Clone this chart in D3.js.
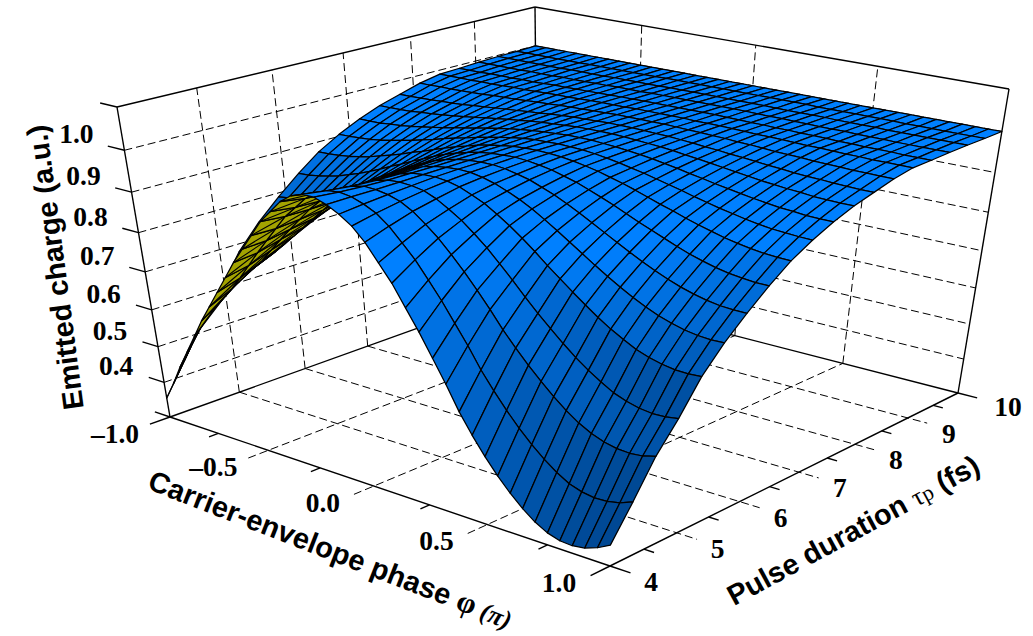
<!DOCTYPE html>
<html><head><meta charset="utf-8"><script src="https://cdn.jsdelivr.net/npm/d3@7"></script>
<style>html,body{margin:0;background:#fff}svg{display:block}</style></head><body><div id="c"></div>
<script>
const phiValues=[-1,-.95,-.9,-.85,-.8,-.75,-.7,-.65,-.6,-.55,-.5,-.45,-.4,-.35,-.3,-.25,-.2,-.15,-.1,-.05,0,.05,.1,.15,.2,.25,.3,.35,.4,.45,.5,.55,.6,.65,.7,.75,.8,.85,.9,.95,1];
const tauValues=[4,4.316,4.632,4.947,5.263,5.579,5.895,6.211,6.526,6.842,7.158,7.474,7.789,8.105,8.421,8.737,9.053,9.368,9.684,10];
const surface=[
[.355,.405,.46,.51,.56,.61,.655,.7,.745,.79,.83,.87,.91,.94,.97,.99,1,1,.99,.975,.955,.925,.885,.845,.795,.745,.69,.635,.575,.525,.48,.44,.405,.375,.35,.332,.322,.32,.325,.337,.355],
[.44,.49,.54,.585,.615,.648,.682,.718,.757,.796,.833,.869,.905,.933,.961,.98,.992,.995,.991,.981,.967,.944,.913,.881,.841,.8,.754,.708,.657,.614,.574,.538,.506,.478,.454,.435,.424,.419,.42,.427,.44],
[.53,.568,.606,.64,.665,.69,.716,.744,.778,.811,.843,.874,.905,.931,.956,.974,.986,.992,.991,.986,.977,.961,.938,.913,.882,.849,.813,.775,.734,.698,.664,.633,.604,.578,.556,.539,.527,.52,.518,.521,.53],
[.6,.623,.648,.671,.692,.715,.74,.767,.795,.824,.852,.88,.907,.93,.953,.97,.983,.99,.992,.99,.985,.973,.956,.937,.913,.887,.857,.826,.793,.762,.733,.705,.679,.656,.636,.618,.606,.598,.594,.595,.6],
[.68,.691,.706,.721,.739,.759,.779,.801,.824,.847,.87,.893,.916,.936,.954,.97,.982,.99,.993,.994,.991,.984,.972,.959,.941,.921,.899,.875,.849,.825,.801,.778,.756,.736,.719,.703,.692,.684,.679,.678,.68],
[.74,.747,.757,.769,.782,.797,.814,.831,.85,.869,.888,.908,.926,.943,.959,.972,.983,.99,.994,.996,.995,.99,.982,.971,.958,.943,.925,.906,.886,.866,.846,.827,.809,.792,.777,.764,.754,.746,.741,.739,.74],
[.79,.794,.801,.809,.819,.831,.844,.858,.873,.889,.905,.921,.936,.95,.963,.975,.984,.991,.995,.997,.997,.994,.988,.981,.97,.959,.945,.93,.914,.898,.882,.866,.851,.837,.824,.813,.804,.797,.792,.79,.79],
[.835,.837,.841,.847,.854,.863,.873,.884,.896,.909,.921,.934,.946,.958,.969,.978,.986,.992,.996,.998,.999,.997,.993,.988,.98,.972,.961,.95,.938,.925,.912,.9,.888,.876,.865,.856,.848,.842,.838,.835,.835],
[.875,.876,.878,.882,.887,.893,.901,.909,.918,.928,.937,.947,.957,.966,.974,.982,.988,.993,.997,.999,1,.999,.997,.993,.988,.982,.974,.966,.957,.947,.937,.928,.918,.909,.901,.893,.887,.882,.878,.876,.875],
[.905,.906,.908,.91,.914,.919,.925,.931,.938,.945,.953,.96,.967,.974,.98,.986,.991,.995,.998,.999,1,.999,.998,.995,.991,.986,.98,.974,.967,.96,.953,.945,.938,.931,.925,.919,.914,.91,.908,.906,.905],
[.93,.93,.931,.934,.936,.94,.944,.949,.954,.959,.965,.97,.976,.981,.986,.99,.993,.996,.998,1,1,1,.998,.996,.993,.99,.986,.981,.976,.97,.965,.959,.954,.949,.944,.94,.936,.934,.931,.93,.93],
[.95,.95,.951,.952,.955,.957,.96,.963,.967,.971,.975,.979,.983,.986,.99,.993,.995,.997,.999,1,1,1,.999,.997,.995,.993,.99,.986,.983,.979,.975,.971,.967,.963,.96,.957,.955,.952,.951,.95,.95],
[.965,.965,.966,.967,.969,.97,.972,.975,.977,.98,.983,.985,.988,.99,.993,.995,.997,.998,.999,1,1,1,.999,.998,.997,.995,.993,.99,.988,.985,.983,.98,.977,.975,.972,.97,.969,.967,.966,.965,.965],
[.98,.98,.981,.981,.982,.983,.984,.986,.987,.988,.99,.992,.993,.995,.996,.997,.998,.999,1,1,1,1,1,.999,.998,.997,.996,.995,.993,.992,.99,.988,.987,.986,.984,.983,.982,.981,.981,.98,.98],
[.99,.99,.99,.99,.991,.991,.992,.993,.993,.994,.995,.996,.996,.997,.998,.999,.999,.999,1,1,1,1,1,.999,.999,.999,.998,.997,.996,.996,.995,.994,.993,.993,.992,.991,.991,.99,.99,.99,.99],
[.992,.992,.992,.993,.993,.993,.994,.994,.995,.996,.996,.997,.997,.998,.998,.999,.999,1,1,1,1,1,1,1,.999,.999,.998,.998,.997,.997,.996,.996,.995,.994,.994,.993,.993,.993,.992,.992,.992],
[.995,.995,.995,.995,.995,.996,.996,.996,.997,.997,.997,.998,.998,.999,.999,.999,1,1,1,1,1,1,1,1,1,.999,.999,.999,.998,.998,.997,.997,.997,.996,.996,.996,.995,.995,.995,.995,.995],
[.997,.997,.997,.997,.997,.997,.997,.998,.998,.998,.998,.999,.999,.999,.999,.999,1,1,1,1,1,1,1,1,1,.999,.999,.999,.999,.999,.998,.998,.998,.998,.997,.997,.997,.997,.997,.997,.997],
[.998,.998,.998,.998,.998,.998,.998,.999,.999,.999,.999,.999,.999,.999,1,1,1,1,1,1,1,1,1,1,1,1,1,.999,.999,.999,.999,.999,.999,.999,.998,.998,.998,.998,.998,.998,.998],
[1,1,1,1,1,1,1,1,1,1,1,1,1,1,1,1,1,1,1,1,1,1,1,1,1,1,1,1,1,1,1,1,1,1,1,1,1,1,1,1,1]];
const phiTicks=[-1,-.5,0,.5,1],tauTicks=[4,5,6,7,8,9,10],zTicks=[.4,.5,.6,.7,.8,.9,1];
const phiMinor=[-.75,-.25,.25,.75],tauMinor=[4.5,5.5,6.5,7.5,8.5,9.5];
const W=1033,H=636;
const svg=d3.select('#c').append('svg').attr('width',W).attr('height',H);
const u=d3.scaleLinear([-1,1],[0,1]),v=d3.scaleLinear([4,10],[0,1]),w=d3.scaleLinear([.3,1.1],[0,1]);
function homog(q){const [p0,p1,p2,p3]=q;const [x0,y0]=p0,[x1,y1]=p1,[x2,y2]=p2,[x3,y3]=p3;
 const sx=x0-x1+x2-x3,sy=y0-y1+y2-y3,dx1=x1-x2,dx2=x3-x2,dy1=y1-y2,dy2=y3-y2,den=dx1*dy2-dx2*dy1;
 const g=(sx*dy2-dx2*sy)/den,h=(dx1*sy-sx*dy1)/den;
 const a=x1-x0+g*x1,b=x3-x0+h*x3,c=x0,d=y1-y0+g*y1,e=y3-y0+h*y3,f=y0;
 return (s,t)=>{const m=g*s+h*t+1;return[(a*s+b*t+c)/m,(d*s+e*t+f)/m]}}
const floorH=homog([[170,417],[610,566],[958,393],[538,285]]);
const topH=homog([[117,107],[616,224],[1009,89],[535,7]]);
const K=.88;
function P(phi,tau,z){const s=u(phi),t=v(tau),F=floorH(s,t),T=topH(s,t),r=w(z),g=K*r/(1+r*(K-1));return[F[0]+(T[0]-F[0])*g,F[1]+(T[1]-F[1])*g]}
const line=(a,b,cls)=>svg.append('line').attr('x1',a[0]).attr('y1',a[1]).attr('x2',b[0]).attr('y2',b[1]).attr('stroke','#000').attr('stroke-width',cls=='d'?1:1.4).attr('stroke-dasharray',cls=='d'?'8 4':null);
const zb=.3,zt=1.1,ph0=-1,ph1=1,t0=4,t1=10;
phiTicks.slice(1,4).forEach(p=>{line(P(p,3.72,zb),P(p,t1,zb),'d');line(P(p,t1,zb),P(p,t1,zt),'d')});
tauTicks.slice(1,6).forEach(t=>{line(P(ph0,t,zb),P(1.08,t,zb),'d');line(P(ph0,t,zb),P(ph0,t,zt),'d')});
zTicks.forEach(z=>{line(P(ph0,t0,z),P(ph0,t1,z),'d');line(P(ph0,t1,z),P(ph1,t1,z),'d')});
[[ph0,t0,zb,ph1,t0,zb],[ph1,t0,zb,ph1,t1,zb],[ph0,t0,zb,ph0,t1,zb],[ph0,t1,zb,ph1,t1,zb],[ph0,t0,zb,ph0,t0,zt],[ph1,t1,zb,ph1,t1,zt],[ph0,t1,zb,ph0,t1,zt],[ph0,t0,zt,ph0,t1,zt],[ph0,t1,zt,ph1,t1,zt]].forEach(a=>line(P(a[0],a[1],a[2]),P(a[3],a[4],a[5])));
[-1,1].forEach(p=>line(P(p,t0,zb),P(p,3.72,zb)));
phiMinor.forEach(p=>line(P(p,t0,zb),P(p,3.87,zb)));
tauMinor.forEach(t=>line(P(ph1,t,zb),P(1.04,t,zb)));
[4,10].forEach(t=>line(P(ph1,t,zb),P(1.08,t,zb)));
zTicks.concat([.3,1.1]).forEach(z=>line(P(ph0,t0,z),P(-1.08,t0,z)));
const nP=phiValues.length,nT=tauValues.length;
const bright=d3.rgb(0,128,255),dark=d3.rgb(0,55,115);
const poly=d=>'M'+d.map(p=>p.map(x=>x.toFixed(2)).join(',')).join('L')+'Z';
const area=a=>d3.polygonArea(a);
const g=svg.append('g');
const refSign=area([P(-1,4,.3),P(1,4,.3),P(1,10,.3),P(-1,10,.3)])<0;
for(let i=0;i<nP-1;i++)for(let j=nT-2;j>=0;j--){
 const q=[[i,j],[i+1,j],[i+1,j+1],[i,j+1]].map(([a,b])=>P(phiValues[a],tauValues[b],surface[b][a]));
 const ar=area(q);
 const zp=((surface[j][i+1]+surface[j+1][i+1])-(surface[j][i]+surface[j+1][i]))/2/(phiValues[i+1]-phiValues[i])*2/.8;
 const zq=((surface[j+1][i]+surface[j+1][i+1])-(surface[j][i]+surface[j][i+1]))/2/(tauValues[j+1]-tauValues[j])*6/.8;
 const Lx=.25,Ly=.55,n=Math.hypot(.7*zp,zq,1),ln=Math.hypot(Lx,Ly,1);
 const I=(-zp*Lx-zq*Ly+1)/n/ln;
 const c=d3.interpolateRgb(dark,bright)(Math.max(0,Math.min(1,(I+.3)/.75)));
 const flip=(ar<0)!==refSign;
 g.append('path').attr('d',poly(q)).attr('fill',flip?'#a3a300':c).attr('stroke','#000').attr('stroke-width',1.25).attr('stroke-linejoin','round');
 if(flip)g.append('path').attr('d',poly([q[0],q[2]])).attr('stroke','#000').attr('stroke-width',1.1);
}
const lab=(s,x,y)=>svg.append('text').attr('x',x).attr('y',y).attr('text-anchor','middle').attr('font-family','Liberation Serif').attr('font-weight','bold').attr('font-size',27.5).text(s);
zTicks.forEach(z=>{const p=P(ph0,t0,z);lab(z.toFixed(1),p[0]-48,p[1]-16+9)});
phiTicks.forEach(t=>{const p=P(t,t0,zb);lab((t<0?'\u2013':'')+Math.abs(t).toFixed(1),p[0]-(t<0?55:51),p[1]+17+9)});
tauTicks.forEach(t=>{const p=P(ph1,t,zb);lab(String(t),p[0]+(t==10?50:41),p[1]+(t==10?14:16)+9)});
const title=(x,y,rot,s)=>svg.append('text').attr('transform',`translate(${x},${y}) rotate(${rot})`).attr('text-anchor','middle').attr('font-family','Liberation Sans').attr('font-weight','bold').attr('font-size',s);
title(65,266,-97.5,29).text('Emitted charge (a.u.)');
const t2=title(327,559,21.3,29);t2.append('tspan').text('Carrier-envelope phase ');t2.append('tspan').text('\u03c6').attr('font-family','Liberation Serif').attr('font-size',31);t2.append('tspan').text(' (\u03c0)').attr('font-family','Liberation Serif').attr('font-style','italic').attr('font-size',26);
const t3=title(858,539,-28.5,28.8);t3.append('tspan').text('Pulse duration ');t3.append('tspan').text('\u03c4').attr('font-family','Liberation Serif').attr('font-weight','normal').attr('font-size',26);t3.append('tspan').text('p').attr('font-family','Liberation Serif').attr('font-weight','normal').attr('font-size',22);t3.append('tspan').text(' (fs)');
</script></body></html>
